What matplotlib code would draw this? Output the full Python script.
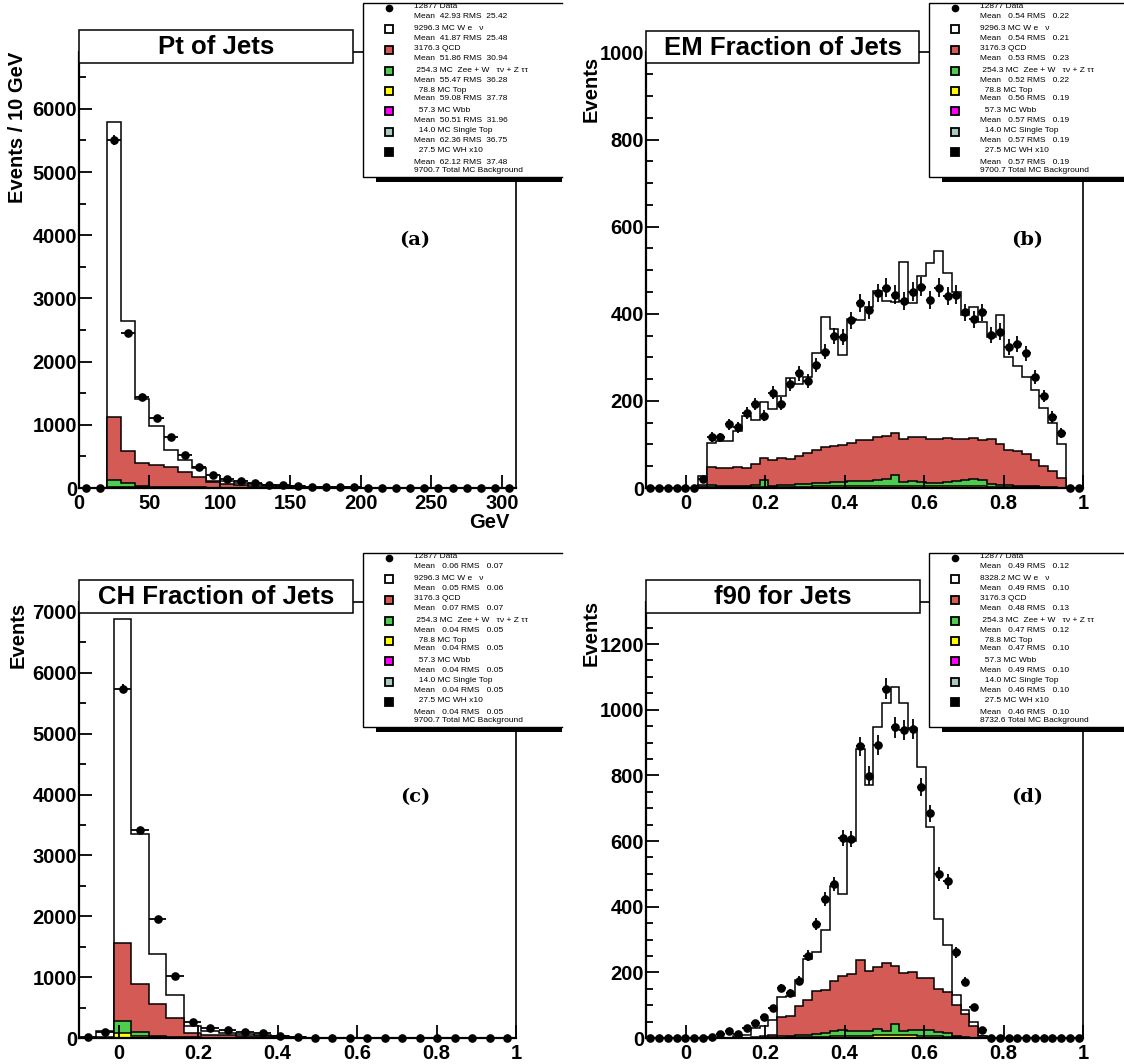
import numpy as np
import matplotlib.pyplot as plt
from matplotlib.patches import Rectangle

plt.rcParams['font.family'] = ['Liberation Sans', 'DejaVu Sans']
plt.rcParams['font.weight'] = 'bold'

W, H = 1124, 1064
c_red = '#d35a55'
c_green = '#4fcc4f'
c_yellow = '#ffff00'
c_magenta = '#ff00ff'
c_grey = '#a8c8c0'

# ---- (a) Pt of jets, 10 GeV bins
a_edges = np.arange(0, 311, 10)
a_data = [0, 0, 5510, 2455, 1435, 1105, 815, 525, 340, 210, 135, 105, 78, 55, 42, 30,
          22, 16, 12, 9, 7, 5, 4, 3, 2, 2, 1, 1, 1, 0, 0]
a_total = [0, 0, 5800, 2635, 1410, 975, 605, 448, 318, 110, 115, 85, 62, 46, 34, 26,
           19, 14, 11, 8, 6, 5, 4, 3, 2, 2, 1, 1, 1, 0, 0]
a_qcd = [0, 0, 1120, 580, 398, 370, 340, 248, 175, 95, 65, 45, 32, 24, 18, 13,
         10, 7, 5, 4, 3, 2, 2, 1, 1, 1, 0, 0, 0, 0, 0]
a_ewk = [0, 0, 130, 75, 25, 16, 12, 10, 8, 6, 5, 4, 3, 2, 2, 1,
         1, 1, 0, 0, 0, 0, 0, 0, 0, 0, 0, 0, 0, 0, 0]
a_top = [0, 0, 20, 12, 8, 6, 5, 4, 3, 2, 2, 1, 1, 1, 0, 0,
         0, 0, 0, 0, 0, 0, 0, 0, 0, 0, 0, 0, 0, 0, 0]

# ---- (b) EM fraction, 50 bins
b_edges = np.linspace(-0.1, 1.0, 51)
b_data = [0, 0, 0, 0, 0, 0, 21, 117, 116, 146, 139, 172, 192, 166, 219, 194, 238, 263, 245, 282,
          313, 349, 347, 385, 425, 408, 448, 460, 444, 430, 451, 462, 431, 460, 441, 444, 403, 387,
          403, 352, 359, 323, 330, 309, 254, 211, 163, 126, 0, 0]
b_total = [0, 0, 0, 0, 0, 0, 28, 104, 107, 107, 130, 165, 157, 198, 182, 211, 253, 238, 255, 309,
           393, 366, 305, 387, 385, 416, 452, 430, 428, 520, 425, 487, 516, 545, 493, 451, 397, 416,
           382, 346, 397, 300, 280, 254, 226, 184, 150, 100, 0, 0]
b_qcd = [0, 0, 0, 0, 0, 0, 8, 48, 45, 45, 48, 47, 56, 69, 64, 69, 67, 73, 80, 87,
         93, 96, 98, 104, 110, 111, 116, 120, 127, 112, 116, 117, 113, 113, 115, 113, 113, 115,
         110, 113, 100, 88, 85, 77, 65, 50, 39, 23, 0, 0]
b_ewk = [0, 0, 0, 0, 0, 0, 3, 8, 5, 4, 4, 4, 6, 18, 5, 6, 8, 9, 10, 12,
         12, 13, 14, 15, 15, 17, 18, 20, 30, 14, 15, 14, 12, 12, 13, 16, 18, 20,
         18, 10, 8, 6, 5, 5, 4, 3, 2, 1, 0, 0]
b_top = [0, 0, 0, 0, 0, 0, 1, 2, 2, 2, 2, 2, 2, 3, 3, 3, 3, 3, 3, 4,
         4, 4, 4, 4, 4, 4, 4, 5, 5, 4, 4, 4, 4, 4, 4, 4, 4, 4,
         4, 3, 3, 3, 2, 2, 2, 1, 1, 1, 0, 0]

# ---- (c) CH fraction, 25 bins
c_edges = np.linspace(-0.1, 1.0, 26)
c_data = [10, 93, 5740, 3410, 1955, 1024, 257, 164, 126, 99, 82, 38, 11, 5,
          0, 0, 0, 0, 0, 0, 0, 0, 0, 0, 0]
c_total = [0, 120, 6880, 3360, 1380, 700, 190, 110, 82, 65, 50, 30, 12, 5,
           2, 0, 0, 0, 0, 0, 0, 0, 0, 0, 0]
c_qcd = [0, 15, 1560, 890, 560, 330, 80, 55, 44, 35, 25, 15, 6, 2,
         1, 0, 0, 0, 0, 0, 0, 0, 0, 0, 0]
c_ewk = [0, 5, 275, 100, 40, 20, 10, 8, 6, 5, 4, 3, 1, 0,
         0, 0, 0, 0, 0, 0, 0, 0, 0, 0, 0]
c_top = [0, 2, 80, 25, 12, 6, 4, 3, 2, 2, 1, 1, 0, 0,
         0, 0, 0, 0, 0, 0, 0, 0, 0, 0, 0]

# ---- (d) f90, 50 bins
d_edges = np.linspace(-0.1, 1.0, 51)
d_data = [0, 0, 0, 0, 0, 0, 0, 3, 13, 22, 13, 29, 46, 64, 91, 152, 137, 175, 251, 347,
          424, 469, 609, 607, 888, 799, 893, 1064, 946, 939, 941, 764, 685, 500, 477, 261,
          172, 93, 25, 0, 0, 0, 0, 0, 0, 0, 0, 0, 0, 0]
d_total = [0, 0, 0, 0, 0, 0, 0, 0, 0, 0, 5, 10, 30, 36, 56, 125, 129, 178, 242, 261,
           328, 464, 439, 599, 881, 772, 947, 1020, 1068, 1020, 944, 824, 642, 362, 284, 132,
           86, 48, 7, 0, 0, 0, 0, 0, 0, 0, 0, 0, 0, 0]
d_qcd = [0, 0, 0, 0, 0, 0, 0, 0, 0, 0, 0, 0, 3, 5, 10, 64, 68, 96, 115, 142,
         147, 173, 188, 196, 239, 203, 216, 228, 218, 198, 201, 183, 183, 150, 140, 102,
         73, 38, 5, 0, 0, 0, 0, 0, 0, 0, 0, 0, 0, 0]
d_ewk = [0, 0, 0, 0, 0, 0, 0, 0, 0, 0, 0, 0, 0, 0, 2, 5, 6, 8, 10, 12,
         15, 22, 25, 22, 20, 20, 28, 22, 42, 22, 25, 23, 25, 18, 15, 5,
         2, 0, 0, 0, 0, 0, 0, 0, 0, 0, 0, 0, 0, 0]
d_top = [0, 0, 0, 0, 0, 0, 0, 0, 0, 0, 0, 0, 0, 0, 0, 1, 2, 2, 3, 3,
         4, 5, 6, 6, 7, 7, 8, 8, 9, 8, 8, 7, 6, 5, 4, 2,
         1, 0, 0, 0, 0, 0, 0, 0, 0, 0, 0, 0, 0, 0]

# legend texts
leg_names = ['12877 Data', '9296.3 MC W e   \u03bd', '3176.3 QCD',
             ' 254.3 MC  Zee + W   \u03c4\u03bd + Z \u03c4\u03c4', '  78.8 MC Top',
             '  57.3 MC Wbb', '  14.0 MC Single Top', '  27.5 MC WH x10']
a_stats = [(42.93, 25.42), (41.87, 25.48), (51.86, 30.94), (55.47, 36.28),
           (59.08, 37.78), (50.51, 31.96), (62.36, 36.75), (62.12, 37.48)]
b_stats = [(0.54, 0.22), (0.54, 0.21), (0.53, 0.23), (0.52, 0.22),
           (0.56, 0.19), (0.57, 0.19), (0.57, 0.19), (0.57, 0.19)]
c_stats = [(0.06, 0.07), (0.05, 0.06), (0.07, 0.07), (0.04, 0.05),
           (0.04, 0.05), (0.04, 0.05), (0.04, 0.05), (0.04, 0.05)]
d_stats = [(0.49, 0.12), (0.49, 0.10), (0.48, 0.13), (0.47, 0.12),
           (0.47, 0.10), (0.49, 0.10), (0.46, 0.10), (0.46, 0.10)]
a_wname, d_wname = '9296.3 MC W e   \u03bd', '8328.2 MC W e   \u03bd'
a_totname, d_totname = '9700.7 Total MC Background', '8732.6 Total MC Background'

fig = plt.figure(figsize=(W / 100, H / 100), dpi=100)


def add_panel(px_left, px_top, px_bottom, edges, data, total, qcd, ewk, top,
              xlim, ylim, xticks, ymajor, yminor):
    ax = fig.add_axes([px_left / W, 1 - px_bottom / H, 437 / W, (px_bottom - px_top) / H])
    for lev, col in [(total, 'white'), (qcd, c_red), (ewk, c_green), (top, c_yellow)]:
        ax.stairs(lev, edges, fill=True, facecolor=col, edgecolor='black', linewidth=1.1)
    centers = 0.5 * (edges[1:] + edges[:-1])
    half = 0.5 * (edges[1] - edges[0])
    d = np.array(data, dtype=float)
    ax.errorbar(centers, d, xerr=half, yerr=np.sqrt(d), fmt='o', color='black',
                ms=5.2, elinewidth=1.3, capsize=0, zorder=5, clip_on=False)
    ax.set_xlim(*xlim)
    ax.set_ylim(*ylim)
    ax.set_xticks(xticks)
    ax.set_xticklabels(['%g' % (v + 0.0) for v in xticks])
    ax.set_yticks(np.arange(0, ylim[1], ymajor))
    ax.set_yticks(np.arange(0, ylim[1], yminor), minor=True)
    ax.tick_params(which='both', direction='in', top=False, right=False, width=1.3)
    ax.tick_params(which='major', length=9.5, labelsize=14.5)
    ax.tick_params(which='minor', length=4.7)
    ax.tick_params(axis='x', which='minor', bottom=False)
    ax.tick_params(axis='x', pad=4)
    ax.tick_params(axis='y', pad=1.5)
    for s in ['left', 'bottom']:
        ax.spines[s].set_linewidth(1.6)
    for s in ['right', 'top']:
        ax.spines[s].set_linewidth(1.2)
    return ax


add_panel(79, 52, 488, a_edges, a_data, a_total, a_qcd, a_ewk, a_top,
          (0, 310), (0, 6900), np.arange(0, 301, 50), 1000, 500)
add_panel(646, 52, 488, b_edges, b_data, b_total, b_qcd, b_ewk, b_top,
          (-0.1, 1.0), (0, 1001), [0, 0.2, 0.4, 0.6, 0.8, 1], 200, 50)
add_panel(79, 602, 1038, c_edges, c_data, c_total, c_qcd, c_ewk, c_top,
          (-0.1, 1.0), (0, 7164), [0, 0.2, 0.4, 0.6, 0.8, 1], 1000, 500)
add_panel(646, 602, 1038, d_edges, d_data, d_total, d_qcd, d_ewk, d_top,
          (-0.1, 1.0), (0, 1328), [0, 0.2, 0.4, 0.6, 0.8, 1], 200, 50)

# overlay in pixel coordinates for titles, legends, labels
ov = fig.add_axes([0, 0, 1, 1], zorder=10)
ov.set_xlim(0, W)
ov.set_ylim(H, 0)
ov.axis('off')
ov.patch.set_alpha(0)

# title boxes
for (x0, y0, x1, y1, t) in [(79, 30, 353, 63, 'Pt of Jets'),
                            (646, 31, 919, 63, 'EM Fraction of Jets'),
                            (79, 580, 353, 613, 'CH Fraction of Jets'),
                            (646, 580, 920, 613, 'f90 for Jets')]:
    ov.add_patch(Rectangle((x0, y0), x1 - x0, y1 - y0, facecolor='white',
                           edgecolor='black', linewidth=1.1))
    ov.text((x0 + x1) / 2, (y0 + y1) / 2 + 1, t, ha='center', va='center', fontsize=18.5)

# axis titles
ov.text(18, 52, 'Events / 10 GeV', rotation=90, ha='center', va='top', fontsize=14.5)
ov.text(591, 56, 'Events', rotation=90, ha='center', va='top', fontsize=14.5)
ov.text(18, 602, 'Events', rotation=90, ha='center', va='top', fontsize=14.5)
ov.text(591, 600, 'Events', rotation=90, ha='center', va='top', fontsize=14.5)
ov.text(509, 522, 'GeV', ha='right', va='center', fontsize=14.5)

# panel letters
for (x, y, t) in [(415, 240, '(a)'), (1027, 240, '(b)'), (415, 797, '(c)'), (1027, 797, '(d)')]:
    ov.text(x, y, t, ha='center', va='center', fontsize=14, fontweight='bold',
            family=['DejaVu Serif'])

# legends
text_dy = [4, 14, 25, 36, 45, 56, 67, 77, 87, 96, 107, 117, 128, 137, 148, 159, 168]
mark_dy = [5, 26, 47, 68, 88, 108, 129, 149]
mark_col = [None, 'white', c_red, c_green, c_yellow, c_magenta, c_grey, 'black']


def legend(x0, y0, xr, wname, stats, totname):
    # box runs past the pad edge xr, so no right border is seen
    ov.add_patch(Rectangle((x0 + 13, y0 + 174), xr - x0 - 13, 4.5, facecolor='black', edgecolor='none'))
    ov.add_patch(Rectangle((x0, y0), xr - x0, 174, facecolor='white', edgecolor='none'))
    ov.plot([xr, x0, x0, xr], [y0, y0, y0 + 174, y0 + 174], color='black', lw=1.0,
            solid_joinstyle='miter')
    names = list(leg_names)
    names[1] = wname
    lines = []
    for n, (m, r) in zip(names, stats):
        lines += [n, 'Mean  %5.2f RMS  %5.2f' % (m, r) if m > 1 else 'Mean   %.2f RMS   %.2f' % (m, r)]
    lines.append(totname)
    for dy, s in zip(text_dy, lines):
        ov.text(x0 + 51, y0 + dy, s, ha='left', va='center', fontsize=6, fontweight='normal')
    for dy, col in zip(mark_dy, mark_col):
        if col is None:
            ov.plot(x0 + 26, y0 + dy, 'o', color='black', ms=4.5)
        else:
            ov.plot(x0 + 26, y0 + dy, 's', mfc=col, mec='black', mew=1.3, ms=6)


legend(363, 3, 562, a_wname, a_stats, a_totname)
legend(929, 3, 1124, a_wname, b_stats, a_totname)
legend(363, 553, 562, a_wname, c_stats, a_totname)
legend(929, 553, 1124, d_wname, d_stats, d_totname)

fig.savefig('out.png', dpi=100)
